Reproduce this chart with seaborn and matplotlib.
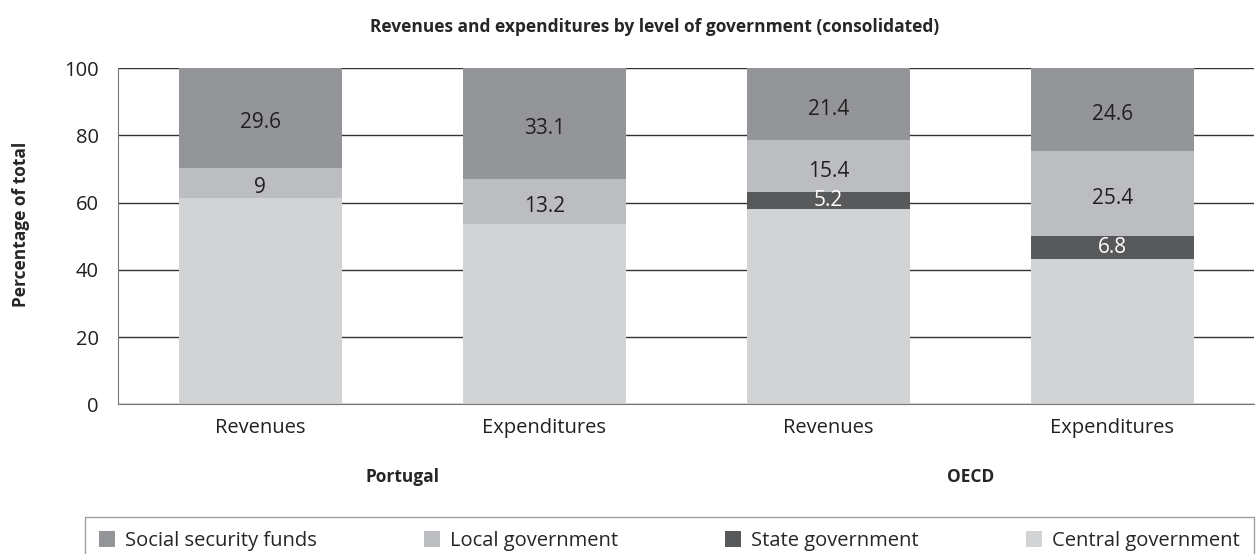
import matplotlib
matplotlib.use("Agg")
import matplotlib.pyplot as plt
from matplotlib.patches import Patch
import seaborn as sns
import pandas as pd

# Bars, left to right
regions = ["Portugal", "Portugal", "OECD", "OECD"]
flows = ["Revenues", "Expenditures", "Revenues", "Expenditures"]

# Shares (% of total), bottom to top
central = [61.4, 53.7, 58.0, 43.2]
state = [0.0, 0.0, 5.2, 6.8]
local = [9.0, 13.2, 15.4, 25.4]
social = [29.6, 33.1, 21.4, 24.6]

layers = ["Central government", "State government", "Local government", "Social security funds"]
colors = {
    "Central government": "#d1d3d4",
    "State government": "#58595b",
    "Local government": "#bcbdc0",
    "Social security funds": "#939598",
}

sns.set_style("white")
plt.rcParams["font.family"] = ["Open Sans", "DejaVu Sans"]

df = pd.DataFrame({
    "bar": [f"{r} {f}" for r, f in zip(regions, flows)],
    "Central government": central,
    "State government": state,
    "Local government": local,
    "Social security funds": social,
})
order = list(df["bar"])

fig, ax = plt.subplots(figsize=(12.57, 5.54), dpi=100)
fig.subplots_adjust(left=0.094, right=0.998, top=0.877, bottom=0.27)

# cumulative tops, drawn from the tallest down so they stack
cum = df[layers].cumsum(axis=1)
cum["bar"] = df["bar"]
for layer in reversed(layers):
    sns.barplot(data=cum, x="bar", y=layer, order=order, color=colors[layer],
                saturation=1, width=0.573, linewidth=0, ax=ax, zorder=2)

# segment labels (sit a touch below the middle, as in the source)
for i in range(len(df)):
    base = 0
    for layer in layers:
        v = df[layer].iloc[i]
        if layer != "Central government" and v > 0:
            tc = "white" if layer == "State government" else "#231f20"
            dy = 0 if layer == "State government" else -1.5
            ax.text(i, base + v / 2 + dy, f"{v:g}", ha="center", va="center",
                    fontsize=15, color=tc, zorder=3)
        base += v

ax.set_ylim(0, 100)
ax.set_xlim(-0.5, 3.5)
ax.set_yticks(range(0, 101, 20))
ax.yaxis.grid(True, color="#333333", linewidth=1, zorder=0)
ax.set_axisbelow(True)
ax.set_xticks(range(4))
ax.set_xticklabels(flows)
ax.tick_params(axis="both", labelsize=14.5, length=0, colors="#231f20")
ax.tick_params(axis="x", pad=10)
ax.tick_params(axis="y", pad=14)
for s in ["top", "right"]:
    ax.spines[s].set_visible(False)
ax.spines["left"].set_color("#777777")
ax.spines["bottom"].set_color("#777777")
ax.set_xlabel("")
ax.set_ylabel("Percentage of total", fontsize=12.5, fontweight="bold")
ax.yaxis.set_label_coords(-0.078, 0.536)

ax.set_title("Revenues and expenditures by level of government (consolidated)",
             fontsize=12.5, fontweight="bold", pad=26, x=0.472)

# group labels under the pairs of bars
trans = ax.get_xaxis_transform()
ax.text(0.5, -0.217, "Portugal", transform=trans, ha="center", va="center",
        fontsize=12.5, fontweight="bold")
ax.text(2.5, -0.217, "OECD", transform=trans, ha="center", va="center",
        fontsize=12.5, fontweight="bold")

# legend
names = list(reversed(layers))
handles = [Patch(facecolor=colors[l], edgecolor="none") for l in names]
leg = fig.legend(handles, names, loc="upper left",
                 bbox_to_anchor=(0.0676, -0.1, 0.93, 0.1668), mode="expand", ncol=4,
                 frameon=True, fontsize=14.5, handlelength=0.8, handleheight=0.8,
                 handletextpad=0.5, borderpad=0.7, borderaxespad=0, fancybox=False)
leg.get_frame().set_edgecolor("#888888")
leg.get_frame().set_linewidth(1)

fig.savefig("out.png", dpi=100)
